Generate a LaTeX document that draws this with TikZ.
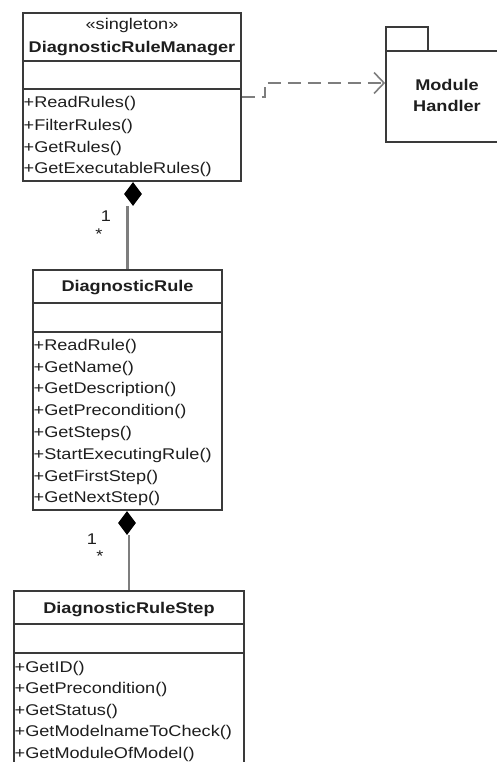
\documentclass[tikz,border=0pt]{standalone}
\usepackage{fontspec}
\setmainfont{Liberation Sans}[FakeStretch=1.17]
\usetikzlibrary{shapes.geometric,arrows.meta}
\definecolor{edge}{HTML}{3A3A3A}
\definecolor{link}{HTML}{7E7E7E}
\definecolor{ink}{HTML}{1E1E1E}
\begin{document}
\begin{tikzpicture}[x=1pt,y=-1pt,
  classbox/.style={draw=edge, line width=1.7pt, fill=white, inner sep=0pt},
  divider/.style={draw=edge, line width=1.7pt},
  member/.style={anchor=base west, inner sep=0pt, text=ink,
    font=\fontsize{15.5}{18}\selectfont},
  classname/.style={anchor=base, inner sep=0pt, text=ink,
    font=\fontsize{15.5}{18}\selectfont\bfseries},
  stereo/.style={anchor=base, inner sep=0pt, text=ink,
    font=\fontsize{15.5}{18}\selectfont},
  mult/.style={anchor=base, inner sep=0pt, text=ink,
    font=\fontsize{15.5}{18}\selectfont},
  composite/.style={diamond, fill=black, draw=none, inner sep=0pt,
    minimum width=18pt, minimum height=24pt},
  assoc/.style={draw=link, line width=2.2pt},
  dependency/.style={draw=link, line width=2pt, dash pattern=on 13pt off 7pt,
    -{Straight Barb[length=10pt, width=21pt, line width=1.6pt]}},
]
\useasboundingbox[fill=white] (0,0) rectangle (496,762);

% ---- DiagnosticRuleManager ----
\node[classbox, minimum width=218pt, minimum height=168pt] (drm) at (132,97) {};
\draw[divider] (drm.west |- 0,61) -- (drm.east |- 0,61);
\draw[divider] (drm.west |- 0,89) -- (drm.east |- 0,89);
\node[stereo] (drmst) at (132,30) {«singleton»};
\node[classname] (drmname) at (132,53) {DiagnosticRuleManager};
\node[member] (drm1) at (23.5,108) {+ReadRules()};
\node[member] (drm2) at (23.5,130.5) {+FilterRules()};
\node[member] (drm3) at (23.5,152.5) {+GetRules()};
\node[member] (drm4) at (23.5,174) {+GetExecutableRules()};

% ---- Module Handler package ----
\node[classbox, minimum width=42pt, minimum height=24pt] (pkgtab) at (407,39) {};
\node[classbox, minimum width=124pt, minimum height=91pt] (pkg) at (448,96.5) {};
\node[classname] (pkgl1) at (447,91) {Module};
\node[classname] (pkgl2) at (447,112) {Handler};

% ---- DiagnosticRule ----
\node[classbox, minimum width=189pt, minimum height=240pt] (dr) at (127.5,390) {};
\draw[divider] (dr.west |- 0,303) -- (dr.east |- 0,303);
\draw[divider] (dr.west |- 0,332) -- (dr.east |- 0,332);
\node[classname] (drname) at (127.5,291) {DiagnosticRule};
\node[member] (dr1) at (33.5,350) {+ReadRule()};
\node[member] (dr2) at (33.5,372) {+GetName()};
\node[member] (dr3) at (33.5,393.5) {+GetDescription()};
\node[member] (dr4) at (33.5,415) {+GetPrecondition()};
\node[member] (dr5) at (33.5,437) {+GetSteps()};
\node[member] (dr6) at (33.5,459) {+StartExecutingRule()};
\node[member] (dr7) at (33.5,481) {+GetFirstStep()};
\node[member] (dr8) at (33.5,502.5) {+GetNextStep()};

% ---- DiagnosticRuleStep ----
\node[classbox, minimum width=230pt, minimum height=190pt] (drs) at (129,686) {};
\draw[divider] (drs.west |- 0,624) -- (drs.east |- 0,624);
\draw[divider] (drs.west |- 0,653) -- (drs.east |- 0,653);
\node[classname] (drsname) at (129,613) {DiagnosticRuleStep};
\node[member] (drs1) at (14.5,672) {+GetID()};
\node[member] (drs2) at (14.5,693.5) {+GetPrecondition()};
\node[member] (drs3) at (14.5,715) {+GetStatus()};
\node[member] (drs4) at (14.5,736.5) {+GetModelnameToCheck()};
\node[member] (drs5) at (14.5,758) {+GetModuleOfModel()};

% ---- compositions ----
\node[composite] (dia1) at (133,194) {};
\draw[assoc] (dia1.south -| dr.north) -- (dr.north);
\node[mult] (m1one) at (106,221) {1};
\node[mult] (m1many) at (99,239) {*};

\node[composite] (dia2) at (127,523) {};
\draw[assoc] (dia2.south -| drs.north) -- (drs.north);
\node[mult] (m2one) at (92,544) {1};
\node[mult] (m2many) at (100,561) {*};

% ---- dependency ----
\coordinate (jog) at (265,83);
\draw[dependency] (drm.east |- 0,97) -- (jog |- 0,97) -- (jog) -- (pkg.west |- jog);
\end{tikzpicture}
\end{document}
